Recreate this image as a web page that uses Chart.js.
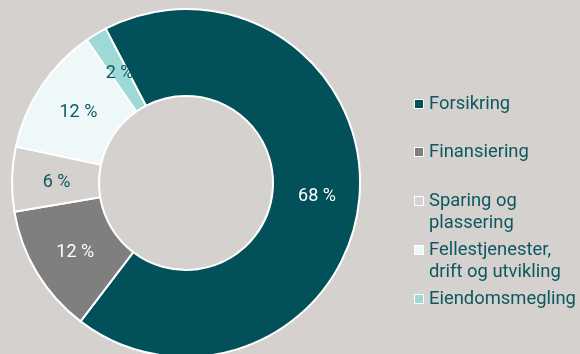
<!DOCTYPE html>
<html>
<head>
<meta charset="utf-8">
<script src="https://cdn.jsdelivr.net/npm/chart.js@4.4.1/dist/chart.umd.min.js"></script>
<style>
  html, body { margin: 0; padding: 0; background: #d5d1ce; }
  #wrap { position: relative; width: 580px; height: 354px; overflow: hidden; background: #d5d1ce; }
  #chartBox { position: absolute; left: 0; top: 0; width: 580px; height: 360px; }
  #legend { position: absolute; left: 414px; top: 0; font-family: Roboto, sans-serif; font-size: 18.4px; color: #0d5860; }
  .item { position: absolute; left: 0; white-space: nowrap; line-height: 21.5px; }
  .box { position: absolute; left: 0; width: 8px; height: 8px; border: 1px solid #ffffff; }
  .txt { position: absolute; left: 15px; }
</style>
</head>
<body>
<div id="wrap">
  <div id="chartBox"><canvas id="c"></canvas></div>
  <div id="legend"></div>
</div>
<script>
const categories = ['Forsikring', 'Finansiering', 'Sparing og plassering', 'Fellestjenester, drift og utvikling', 'Eiendomsmegling'];
const legendLines = [['Forsikring'], ['Finansiering'], ['Sparing og', 'plassering'], ['Fellestjenester,', 'drift og utvikling'], ['Eiendomsmegling']];
const values = [68, 12, 6, 12, 2];
const valueLabels = ['68 %', '12 %', '6 %', '12 %', '2 %'];
const colors = ['#02505a', '#7f7f7f', '#d5d1ce', '#eef8f8', '#9dd9d7'];
const labelColors = ['#ffffff', '#ffffff', '#0d5860', '#0d5860', '#0d5860'];

const sliceLabels = {
  id: 'sliceLabels',
  afterDatasetsDraw(chart) {
    const ctx = chart.ctx;
    const meta = chart.getDatasetMeta(0);
    ctx.save();
    ctx.font = '18px Roboto, sans-serif';
    ctx.textAlign = 'center';
    ctx.textBaseline = 'middle';
    meta.data.forEach((arc, i) => {
      const p = arc.tooltipPosition();
      ctx.fillStyle = labelColors[i];
      ctx.fillText(valueLabels[i], p.x + 1, p.y + 2);
    });
    ctx.restore();
  }
};

new Chart(document.getElementById('c'), {
  type: 'doughnut',
  data: {
    labels: categories,
    datasets: [{
      data: values,
      backgroundColor: colors,
      borderColor: '#ffffff',
      borderWidth: 2
    }]
  },
  options: {
    responsive: true,
    maintainAspectRatio: false,
    animation: false,
    rotation: -27.5,
    cutout: '50%',
    layout: { padding: { left: 11, right: 219, top: 8, bottom: 2 } },
    plugins: { legend: { display: false }, tooltip: { enabled: false } }
  },
  plugins: [sliceLabels]
});

// legend (text as HTML)
const legendTops = [99, 147, 196, 245, 294];
const legend = document.getElementById('legend');
categories.forEach((c, i) => {
  const item = document.createElement('div');
  item.className = 'item';
  item.style.top = legendTops[i] + 'px';
  const box = document.createElement('div');
  box.className = 'box';
  box.style.background = colors[i];
  item.appendChild(box);
  const t = document.createElement('div');
  t.className = 'txt';
  t.style.top = '-7px';
  t.innerHTML = legendLines[i].join('<br>');
  item.appendChild(t);
  legend.appendChild(item);
});
</script>
</body>
</html>
